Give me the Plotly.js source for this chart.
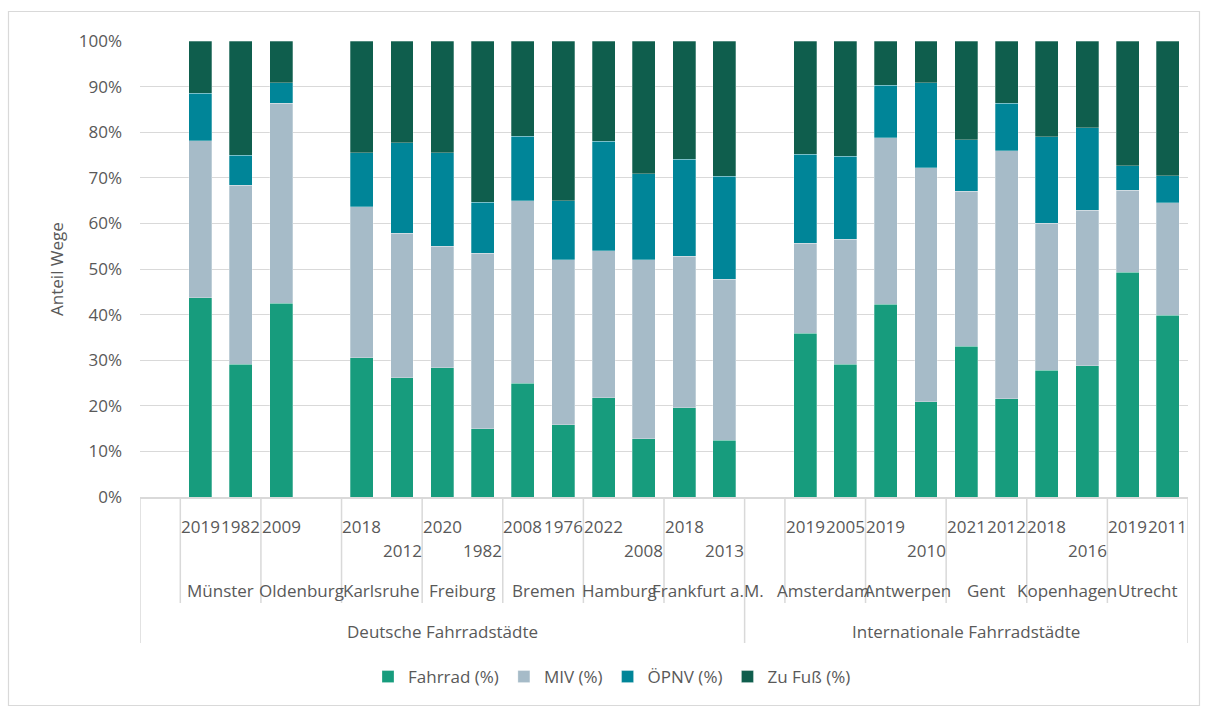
<!DOCTYPE html>
<html>
<head>
<meta charset="utf-8">
<script src="https://cdn.plot.ly/plotly-3.0.1.min.js"></script>
<style>
  html, body { margin: 0; padding: 0; background: #ffffff; }
  #chart { width: 1207px; height: 707px; }
</style>
</head>
<body>
<div id="chart"></div>
<script>
// ---- Data (rows of the source table; blank rows are spacer categories) ----
const groupCol = [
  "Deutsche Fahrradstädte", "Deutsche Fahrradstädte", "Deutsche Fahrradstädte", "Deutsche Fahrradstädte",
  "Deutsche Fahrradstädte", "Deutsche Fahrradstädte", "Deutsche Fahrradstädte", "Deutsche Fahrradstädte",
  "Deutsche Fahrradstädte", "Deutsche Fahrradstädte", "Deutsche Fahrradstädte", "Deutsche Fahrradstädte",
  "Deutsche Fahrradstädte", "Deutsche Fahrradstädte", "Deutsche Fahrradstädte",
  "Internationale Fahrradstädte", "Internationale Fahrradstädte", "Internationale Fahrradstädte",
  "Internationale Fahrradstädte", "Internationale Fahrradstädte", "Internationale Fahrradstädte",
  "Internationale Fahrradstädte", "Internationale Fahrradstädte", "Internationale Fahrradstädte",
  "Internationale Fahrradstädte", "Internationale Fahrradstädte"
];
const cityCol = [
  "", "Münster", "Münster", "Oldenburg", "Oldenburg",
  "Karlsruhe", "Karlsruhe", "Freiburg", "Freiburg", "Bremen", "Bremen",
  "Hamburg", "Hamburg", "Frankfurt a.M.", "Frankfurt a.M.",
  "", "Amsterdam", "Amsterdam", "Antwerpen", "Antwerpen", "Gent", "Gent",
  "Kopenhagen", "Kopenhagen", "Utrecht", "Utrecht"
];
const yearCol = [
  "", "2019", "1982", "2009", "",
  "2018", "2012", "2020", "1982", "2008", "1976",
  "2022", "2008", "2018", "2013",
  "", "2019", "2005", "2019", "2010", "2021", "2012",
  "2018", "2016", "2019", "2011"
];
const fahrrad = [null, 43.7, 29.1, 42.5, null, 30.5, 26.1, 28.3, 15.0, 24.9, 15.8, 21.8, 12.8, 19.6, 12.4,
                 null, 35.9, 29.1, 42.3, 20.9, 33.1, 21.5, 27.8, 28.8, 49.3, 39.9];
const miv     = [null, 34.4, 39.3, 43.8, null, 33.1, 31.7, 26.7, 38.5, 40.1, 36.2, 32.2, 39.2, 33.2, 35.3,
                 null, 19.7, 27.4, 36.5, 51.3, 34.0, 54.4, 32.2, 34.1, 18.0, 24.6];
const oepnv   = [null, 10.4, 6.5, 4.6, null, 11.9, 19.9, 20.5, 11.1, 14.1, 13.0, 24.0, 18.9, 21.3, 22.6,
                 null, 19.6, 18.2, 11.5, 18.7, 11.3, 10.4, 19.0, 18.1, 5.3, 6.0];
const fuss    = [null, 11.5, 25.1, 9.1, null, 24.5, 22.3, 24.5, 35.4, 20.9, 35.0, 22.0, 29.1, 25.9, 29.7,
                 null, 24.8, 25.3, 9.7, 9.1, 21.6, 13.7, 21.0, 19.0, 27.4, 29.5];
const seriesNames = ["Fahrrad (%)", "MIV (%)", "ÖPNV (%)", "Zu Fuß (%)"];
const yTicks = [0, 10, 20, 30, 40, 50, 60, 70, 80, 90, 100];

// ---- Styles ----
const colors = ["#179c7d", "#a6bbc8", "#008598", "#0f5e4d"];
const textColor = "#595959";
const lineColor = "#d9d9d9";
const fontFamily = "'Open Sans', 'Noto Sans', sans-serif";
const fs = 17;
// plot area in pixels: x 140..1188, y 41..497
const L = 140, R = 1188, T = 41, B = 497;
const W = 1207, H = 707;
const py = p => (B - p) / (B - T);        // pixel y -> paper y
const px = p => (p - L) / (R - L);        // pixel x -> paper x
const staggered = new Set([6, 8, 12, 14, 19, 23]); // year labels pushed to the 2nd row
const cityNudge = { "Hamburg": -4, "Frankfurt a.M.": 4, "Amsterdam": -2, "Antwerpen": 2 }; // px, avoid overlap

const idx = cityCol.map((_, i) => i);
const valueSets = [fahrrad, miv, oepnv, fuss];
const traces = valueSets.map((vals, k) => ({
  type: "bar",
  name: seriesNames[k],
  x: idx,
  y: vals,
  marker: { color: colors[k], line: { color: "rgba(255,255,255,0.35)", width: 0.8 } },
  hovertemplate: "%{y:.1f}%<extra>" + seriesNames[k] + "</extra>"
}));

const annotations = [];
const shapes = [];
// year labels
yearCol.forEach((yr, i) => {
  if (!yr) return;
  annotations.push({
    x: i, xref: "x", y: py(staggered.has(i) ? 550 : 526), yref: "paper",
    text: yr, showarrow: false, xanchor: "center", yanchor: "middle",
    font: { family: fontFamily, size: fs, color: textColor }
  });
});
// city labels + separators
let start = 0;
for (let i = 1; i <= cityCol.length; i++) {
  if (i === cityCol.length || cityCol[i] !== cityCol[start] || groupCol[i] !== groupCol[start]) {
    if (cityCol[start]) {
      annotations.push({
        x: (start + i - 1) / 2, xref: "x", y: py(590), yref: "paper",
        xshift: cityNudge[cityCol[start]] || 0,
        text: cityCol[start], showarrow: false, xanchor: "center", yanchor: "middle",
        font: { family: fontFamily, size: fs, color: textColor }
      });
    }
    if (i < cityCol.length && groupCol[i] === groupCol[start]) {
      shapes.push({ type: "line", xref: "x", yref: "paper", x0: i - 0.5, x1: i - 0.5,
        y0: 0, y1: py(603), line: { color: lineColor, width: 1.5 } });
    }
    start = i;
  }
}
// group labels + separators
start = 0;
shapes.push({ type: "line", xref: "x", yref: "paper", x0: -0.5, x1: -0.5,
  y0: 0, y1: py(643), line: { color: lineColor, width: 1.5 } });
for (let i = 1; i <= groupCol.length; i++) {
  if (i === groupCol.length || groupCol[i] !== groupCol[start]) {
    annotations.push({
      x: (start + i - 1) / 2, xref: "x", y: py(631), yref: "paper",
      text: groupCol[start], showarrow: false, xanchor: "center", yanchor: "middle",
      font: { family: fontFamily, size: fs, color: textColor }
    });
    shapes.push({ type: "line", xref: "x", yref: "paper", x0: i - 0.5, x1: i - 0.5,
      y0: 0, y1: py(643), line: { color: lineColor, width: 1.5 } });
    start = i;
  }
}
// chart border
shapes.push({ type: "rect", xref: "paper", yref: "paper",
  x0: px(8.5), x1: px(1199.5), y0: py(705.5), y1: py(11.5),
  line: { color: lineColor, width: 1.2 }, fillcolor: "rgba(0,0,0,0)", layer: "below" });

const layout = {
  width: W, height: H,
  margin: { l: L, r: W - R, t: T, b: H - B, pad: 0 },
  paper_bgcolor: "#ffffff", plot_bgcolor: "#ffffff",
  font: { family: fontFamily, size: fs, color: textColor },
  barmode: "stack", barnorm: "percent", bargap: 0.43,
  showlegend: true,
  legend: {
    orientation: "h", x: px(612), xanchor: "center", y: py(677), yanchor: "middle",
    font: { family: fontFamily, size: fs, color: textColor }, traceorder: "normal",
    bgcolor: "rgba(0,0,0,0)"
  },
  xaxis: {
    type: "linear", range: [-0.5, cityCol.length - 0.5], showticklabels: false,
    showgrid: false, zeroline: false, showline: true, linecolor: lineColor, linewidth: 1.5,
    ticks: "", fixedrange: true
  },
  yaxis: {
    range: [0, 100], tickvals: yTicks, ticktext: yTicks.map(v => v + "%"),
    showgrid: true, gridcolor: lineColor, gridwidth: 1.2, zeroline: false,
    showline: false, ticks: "", ticklabelstandoff: 17,
    tickfont: { family: fontFamily, size: fs, color: textColor },
    title: { text: "Anteil Wege", standoff: 10, font: { family: fontFamily, size: fs, color: textColor } },
    automargin: false, fixedrange: true
  },
  annotations: annotations,
  shapes: shapes
};

Plotly.newPlot("chart", traces, layout, { displayModeBar: false, responsive: false });
</script>
</body>
</html>
